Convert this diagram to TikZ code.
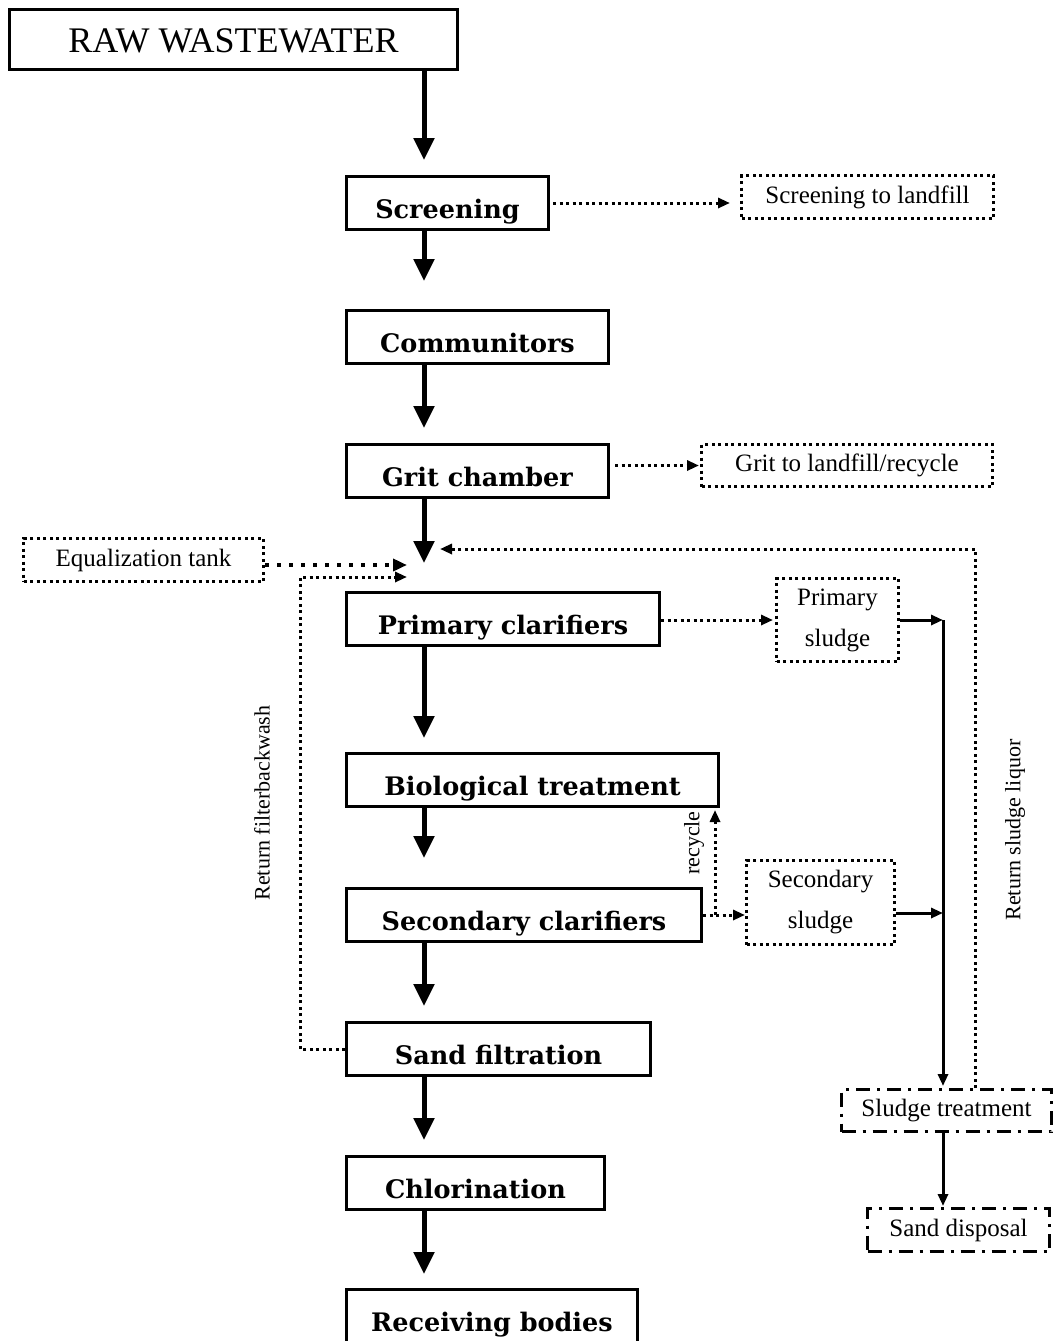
\documentclass[tikz,border=0pt]{standalone}
\usepackage{fontspec}
\setmainfont{Liberation Serif}
\newfontfamily\boxfont{DejaVu Serif}
\usetikzlibrary{arrows.meta,calc}
\begin{document}
\begin{tikzpicture}[x=1pt,y=-1pt,
  mainbox/.style={draw, line width=3pt, inner sep=0pt, anchor=north west, minimum height=53pt, text height=30pt, text depth=0pt, font=\boxfont\bfseries\fontsize{25.5}{30}\selectfont},
  dotbox/.style={draw, line width=3pt, dash pattern=on 3pt off 3.5pt, inner sep=0pt, anchor=north west, font=\fontsize{25}{41}\selectfont, align=center},
  dashdotbox/.style={draw, line width=3pt, dash pattern=on 14pt off 7pt on 3pt off 7pt, inner sep=0pt, anchor=north west, font=\fontsize{25}{30}\selectfont},
  flow/.style={line width=5pt, -{Triangle[width=20pt,length=22pt]}},
  dotarrow/.style={line width=3pt, dash pattern=on 3pt off 3.5pt, -{Triangle[width=10pt,length=12pt]}},
  eqarrow/.style={line width=4pt, dash pattern=on 4pt off 8pt, -{Triangle[width=12pt,length=14pt]}},
  sludgearrow/.style={line width=3pt, -{Triangle[width=10pt,length=12pt]}},
  rotlabel/.style={rotate=90, font=\fontsize{22}{26}\selectfont, inner sep=0pt},
]
\useasboundingbox[fill=white] (0,0) rectangle (1052,1341);

% main chain
\node[mainbox, minimum width=448pt, minimum height=60pt, text height=25pt, font=\fontsize{36}{40}\selectfont] (raw) at (8,8) {RAW WASTEWATER};
\node[mainbox, minimum width=202pt] (scr) at (345,175) {Screening};
\node[mainbox, minimum width=262pt] (com) at (345,309) {Communitors};
\node[mainbox, minimum width=262pt] (grit) at (345,443) {Grit chamber};
\node[mainbox, minimum width=313pt] (pc) at (345,591) {Primary clarifiers};
\node[mainbox, minimum width=372pt] (bio) at (345,752) {Biological treatment};
\node[mainbox, minimum width=355pt] (sc) at (345,887) {Secondary clarifiers};
\node[mainbox, minimum width=304pt] (sf) at (345,1021) {Sand filtration};
\node[mainbox, minimum width=258pt] (chl) at (345,1155) {Chlorination};
\node[mainbox, minimum width=291pt] (rb) at (345,1288) {Receiving bodies};

% side boxes
\node[dotbox, minimum width=252pt, minimum height=43pt] (stl) at (740,174) {Screening to landfill};
\node[dotbox, minimum width=291pt, minimum height=42pt] (gtl) at (700,443) {Grit to landfill/recycle};
\node[dotbox, minimum width=240pt, minimum height=43pt] (eq) at (22,537) {Equalization tank};
\node[dotbox, minimum width=122pt, minimum height=83pt] (ps) at (775,577) {Primary\\sludge};
\node[dotbox, minimum width=148pt, minimum height=84pt] (ss) at (745,859) {Secondary\\sludge};
\node[dashdotbox, minimum width=210pt, minimum height=42pt] (st) at (840,1088) {Sludge treatment};
\node[dashdotbox, minimum width=182pt, minimum height=43pt] (sd) at (866,1207) {Sand disposal};

% helper coordinates
\coordinate (mx) at (424,0);
\coordinate (mp) at (424,563);
\coordinate (eqt) at (407,565);
\coordinate (bwt) at (407,577);
\coordinate (bwx) at (300,0);
\coordinate (rsx) at (975,0);
\coordinate (rst) at (440,549);
\coordinate (jx) at (943,0);
\coordinate (rcx) at (715,0);
\coordinate (ssy) at (0,913);

% main flow arrows
\draw[flow, shorten >=15pt] (raw.south -| mx) -- (scr.north -| mx);
\draw[flow, shorten >=28pt] (scr.south -| mx) -- (com.north -| mx);
\draw[flow, shorten >=15pt] (com.south -| mx) -- (grit.north -| mx);
\draw[flow] (grit.south -| mx) -- (mp);
\draw[flow, shorten >=14pt] (pc.south -| mx) -- (bio.north -| mx);
\draw[flow, shorten >=29pt] (bio.south -| mx) -- (sc.north -| mx);
\draw[flow, shorten >=15pt] (sc.south -| mx) -- (sf.north -| mx);
\draw[flow, shorten >=15pt] (sf.south -| mx) -- (chl.north -| mx);
\draw[flow, shorten >=14pt] (chl.south -| mx) -- (rb.north -| mx);

% side dotted arrows
\draw[dotarrow, shorten <=3pt, shorten >=10pt] (scr.east) -- (stl.west |- scr.east);
\draw[dotarrow, shorten <=5pt, shorten >=1pt] (grit.east |- gtl.west) -- (gtl.west);
\draw[eqarrow] (eq.east |- eqt) -- (eqt);
\draw[dotarrow] (sf.west) -- (sf.west -| bwx) |- (bwt);
\draw[dotarrow] (st.north -| rsx) |- (rst);
\draw[dotarrow, shorten >=2pt] (pc.east |- ps.west) -- (ps.west);
\draw[dotarrow] (sc.east) -- (ss.west |- sc.east);
\draw[dotarrow, shorten >=2pt] (sc.east -| rcx) -- (bio.south -| rcx);

% sludge lines
\draw[sludgearrow] (ps.east) -- (ps.east -| jx);
\draw[sludgearrow] (ss.east |- ssy) -- (jx |- ssy);
\draw[sludgearrow, shorten >=2pt] (ps.east -| jx) -- (st.north -| jx);
\draw[sludgearrow, shorten >=1pt] (st.south -| jx) -- (sd.north -| jx);

% rotated labels
\node[rotlabel] (lbw) at (262,803) {Return filterbackwash};
\node[rotlabel] (lrs) at (1015,830) {Return sludge liquor};
\node[rotlabel] (lrc) at (694,843) {recycle};
\end{tikzpicture}
\end{document}
